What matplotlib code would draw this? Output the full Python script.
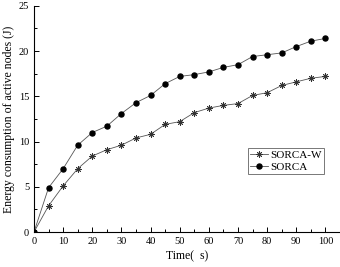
import matplotlib.pyplot as plt
import numpy as np

plt.rcParams['font.family'] = ['Liberation Serif', 'DejaVu Serif']

time = [0, 5, 10, 15, 20, 25, 30, 35, 40, 45, 50,
        55, 60, 65, 70, 75, 80, 85, 90, 95, 100]
sorca_w = [0, 2.9, 5.1, 7.0, 8.4, 9.1, 9.6, 10.4, 10.8, 11.9, 12.2,
           13.2, 13.7, 14.0, 14.2, 15.1, 15.4, 16.2, 16.6, 17.0, 17.2]
sorca = [0, 4.9, 7.0, 9.6, 11.0, 11.7, 13.1, 14.3, 15.1, 16.4, 17.2,
         17.4, 17.7, 18.2, 18.5, 19.4, 19.6, 19.8, 20.5, 21.1, 21.4]

fig = plt.figure(figsize=(3.4, 2.67), dpi=100)
ax = fig.add_axes([0.1, 0.131, 0.9, 0.847])

ax.plot(time, sorca_w, color='#555555', lw=0.6, marker=(8, 2, 0), ms=4.5,
        mec='#333333', mew=0.6, label='SORCA-W')
ax.plot(time, sorca, color='#555555', lw=0.6, marker='o', ms=3.6,
        mfc='black', mec='black', label='SORCA')

ax.set_xlim(0, 105)
ax.set_ylim(0, 25)
ax.set_xticks(np.arange(0, 101, 10))
ax.set_xticks(np.arange(5, 101, 10), minor=True)
ax.set_yticks(np.arange(0, 26, 5))
ax.set_yticks(np.arange(2.5, 25, 5), minor=True)
ax.spines['top'].set_visible(False)
ax.spines['right'].set_visible(False)
for s in ('left', 'bottom'):
    ax.spines[s].set_linewidth(0.8)
ax.tick_params(which='both', direction='in', labelsize=7.5, width=0.7)
ax.tick_params(which='major', length=3.5)
ax.tick_params(which='minor', length=2)

ax.set_xlabel('Time(\u2002s)', fontsize=8.5, labelpad=3)
ax.set_ylabel('Energy consumption of active nodes (J)', fontsize=8.5, labelpad=3)

leg = ax.legend(loc='upper left', bbox_to_anchor=(0.70, 0.37), fontsize=8,
                frameon=True, fancybox=False, edgecolor='#555555',
                borderpad=0.2, handlelength=1.6, handletextpad=0.2,
                labelspacing=0.15, borderaxespad=0)
leg.get_frame().set_linewidth(0.7)

plt.savefig('out.png', dpi=100)
plt.close(fig)
